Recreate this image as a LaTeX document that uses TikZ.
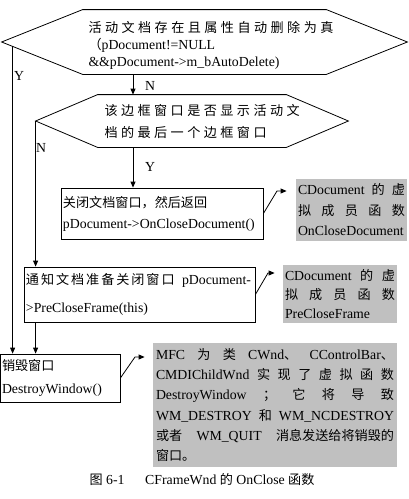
\documentclass[tikz,border=0pt]{standalone}
\usepackage{fontspec}
\setmainfont{Liberation Serif}
\newfontfamily\cjk{Noto Sans CJK SC}[Scale=0.95]
\newcommand{\zh}[1]{{\cjk #1}}
\newcommand{\spr}[2]{\leavevmode\hbox to #1{\spaceskip=.25em plus 1fil\relax #2}}
\newcommand{\nodefont}[1]{\fontsize{13.8}{#1}\selectfont\lineskiplimit=-20pt\relax}
\newcommand{\hexframe}[2]{\draw (#1.west) -- ([xshift=#2]#1.north west) -- ([xshift=-#2]#1.north east)
  -- (#1.east) -- ([xshift=-#2]#1.south east) -- ([xshift=#2]#1.south west) -- cycle;}
\usetikzlibrary{arrows.meta,positioning,calc}
\definecolor{notegray}{RGB}{192,192,192}

\begin{document}
\begin{tikzpicture}[x=1pt, y=-1pt, line width=0.8pt, >={Triangle[length=6pt,width=5pt]},
  every node/.style={font=\nodefont{20}, inner sep=2pt},
  decide/.style={minimum width=#1, align=left},
  stepbox/.style={draw, align=left},
  note/.style={fill=notegray, align=left},
  lbl/.style={inner sep=0pt}]
  \useasboundingbox (0,0) rectangle (408,499);

  % decisions
  \node[decide=405pt, minimum height=64pt] (q1) at (204.5,42) {};
  \node[text width=232pt, align=left, font=\nodefont{17}] (q1t) at (204.5,45)
    {\spr{228pt}{\zh{活 动 文 档 存 在 且 属 性 自 动 删 除 为 真}}\\ \zh{（}pDocument!=NULL\\ \&\&pDocument->m\_bAutoDelete)};
  \hexframe{q1}{81pt}
  \node[decide=312pt, minimum height=52pt, text width=175pt, font=\nodefont{22}] (q2) at (192,121)
    {\spr{173pt}{\zh{该 边 框 窗 口 是 否 显 示 活 动 文}}\\ \spr{144pt}{\zh{档 的 最 后 一 个 边 框 窗 口}}};
  \hexframe{q2}{62pt}

  % actions
  \node[stepbox, minimum width=202pt, minimum height=51pt, text width=198pt, font=\nodefont{21}] (c1) at (162,213.5)
    {\zh{关闭文档窗口，然后返回}\\ pDocument->OnCloseDocument()};
  \node[stepbox, minimum width=231pt, minimum height=55pt, text width=227pt, font=\nodefont{28}] (pc) at (139.5,294.5)
    {\spr{225pt}{\zh{通\hfil 知\hfil 文\hfil 档\hfil 准\hfil 备\hfil 关\hfil 闭\hfil 窗\hfil 口}\hfil\ pDocument-}\\ >PreCloseFrame(this)};
  \node[stepbox, minimum width=120pt, minimum height=48pt, text width=116pt, font=\nodefont{23}] (dw) at (60,378)
    {\zh{销毁窗口}\\ DestroyWindow()};

  % notes
  \node[note, minimum width=111pt, minimum height=62pt, text width=107pt, font=\nodefont{20.5}] (g1) at (351.5,210)
    {\spr{107pt}{CDocument \zh{的 虚}}\\ \spr{107pt}{\zh{拟 成 员 函 数}}\\ OnCloseDocument};
  \node[note, minimum width=114pt, minimum height=58pt, text width=110pt, font=\nodefont{19}] (g2) at (340,294)
    {\spr{110pt}{CDocument \zh{的 虚}}\\ \spr{110pt}{\zh{拟 成 员 函 数}}\\ PreCloseFrame};
  \node[note, minimum width=244pt, minimum height=124pt, text width=238pt, font=\nodefont{20.3}] (g3) at (275,405)
    {\spr{238pt}{MFC \zh{为 类} CWnd\zh{、} CControlBar\zh{、}}\\
     \spr{238pt}{CMDIChildWnd \zh{实 现 了 虚 拟 函 数}}\\
     \spr{238pt}{DestroyWindow \zh{； 它 将 导 致}}\\
     \spr{238pt}{WM\_DESTROY \zh{和} WM\_NCDESTROY}\\
     \spr{238pt}{\zh{或者} WM\_QUIT \zh{消息发送给将销毁的}}\\
     \zh{窗口。}};

  \node (cap) at (202,480) {\zh{图} 6-1\quad\enspace CFrameWnd \zh{的} OnClose \zh{函数}};

  % flow lines
  \coordinate (sp) at (133,0);
  \coordinate (y1) at ($(q1.west)!0.136!([xshift=81pt]q1.south west)$);
  \draw[->] (q1.south -| sp) -- (q2.north -| sp);
  \draw[->] (q2.south -| sp) -- (c1.north -| sp);
  \draw[->] (y1) -- (y1 |- dw.north);
  \draw[->] (q2.west) -- (q2.west |- pc.north);
  \draw[->] (q2.west |- pc.south) -- (q2.west |- dw.north);
  \node[lbl] (ln1) at (150,86) {N};
  \node[lbl] (ly1) at (19,76) {Y};
  \node[lbl] (ln2) at (41,148) {N};
  \node[lbl] (ly2) at (150,167) {Y};

  % links to notes
  \coordinate (k1) at (277,191);
  \coordinate (k2) at (268,273);
  \coordinate (k3) at (135,357);
  \draw[->, shorten >=9pt] (c1.east) -- (k1) -- (k1 -| g1.west);
  \draw[->, shorten >=8pt] (pc.east) -- (k2) -- (k2 -| g2.west);
  \draw[->, shorten >=8pt] (dw.east) -- (k3) -- (k3 -| g3.west);
\end{tikzpicture}
\end{document}
